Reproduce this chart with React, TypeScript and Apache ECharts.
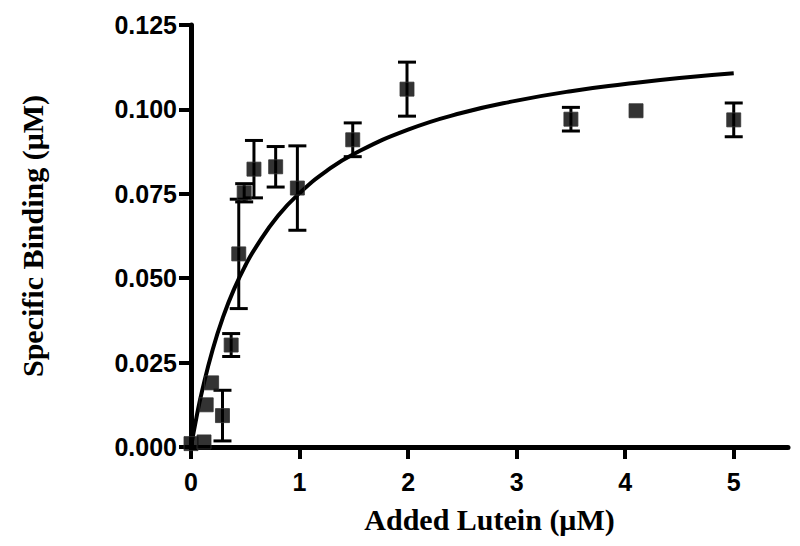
import React, { useEffect, useRef } from "react";
import * as echarts from "echarts";

const pointX = [0, 0.12, 0.14, 0.19, 0.29, 0.37, 0.44, 0.49, 0.58, 0.78, 0.98, 1.49, 1.99, 3.5, 4.1, 5.0];
const pointY = [0.001, 0.0015, 0.0125, 0.019, 0.0093, 0.0302, 0.0572, 0.0753, 0.0823, 0.083, 0.0767, 0.091, 0.106, 0.0971, 0.0996, 0.0969];
const pointErr = [0, 0, 0, 0, 0.0075, 0.0034, 0.0162, 0.0027, 0.0085, 0.006, 0.0125, 0.005, 0.008, 0.0035, 0, 0.005];

const curveX = [0, 0.05, 0.1, 0.2, 0.3, 0.4, 0.5, 0.6, 0.8, 1.0, 1.25, 1.5, 2.0, 2.5, 3.0, 3.5, 4.0, 4.5, 5.0];
const curveY = [0, 0.0087, 0.0163, 0.0289, 0.0389, 0.047, 0.0537, 0.0593, 0.0684, 0.0752, 0.0818, 0.0868, 0.094, 0.099, 0.1026, 0.1054, 0.1075, 0.1093, 0.1107];

const xTicks = { min: 0, max: 5.5, interval: 1 };
const yTicks = { min: 0, max: 0.125, interval: 0.025 };

export default function App() {
  const ref = useRef<HTMLDivElement>(null);
  useEffect(() => {
    if (!ref.current) return;
    const chart = echarts.init(ref.current, null, { renderer: "svg" });
    const points = pointX.map((x, i) => [x, pointY[i]]);
    const errs = pointX.map((x, i) => [x, pointY[i], pointErr[i]]);
    const curve = curveX.map((x, i) => [x, curveY[i]]);
    const axisLine = { show: true, lineStyle: { color: "#000", width: 5 } };
    const axisTick = { show: true, length: 12, inside: false, lineStyle: { color: "#000", width: 4 } };
    chart.setOption({
      animation: false,
      backgroundColor: "#fff",
      grid: { left: 191, right: 12, top: 25, bottom: 99, containLabel: false },
      xAxis: {
        type: "value",
        min: xTicks.min,
        max: xTicks.max,
        interval: xTicks.interval,
        axisLine,
        axisTick,
        splitLine: { show: false },
        axisLabel: {
          color: "#000",
          fontFamily: "Liberation Sans",
          fontWeight: "bold",
          fontSize: 25,
          margin: 22,
          showMaxLabel: false,
        },
        name: "Added Lutein (\u03bcM)",
        nameLocation: "middle",
        nameGap: 57,
        nameTextStyle: { color: "#000", fontFamily: "Liberation Serif", fontWeight: "bold", fontSize: 30 },
      },
      yAxis: {
        type: "value",
        min: yTicks.min,
        max: yTicks.max,
        interval: yTicks.interval,
        axisLine,
        axisTick,
        splitLine: { show: false },
        axisLabel: {
          color: "#000",
          fontFamily: "Liberation Sans",
          fontWeight: "bold",
          fontSize: 25,
          margin: 14,
          formatter: (v: number) => v.toFixed(3),
        },
        name: "Specific Binding (\u03bcM)",
        nameLocation: "middle",
        nameRotate: 90,
        nameGap: 144,
        nameTextStyle: { color: "#000", fontFamily: "Liberation Serif", fontWeight: "bold", fontSize: 30 },
      },
      series: [
        {
          type: "line",
          data: curve,
          smooth: true,
          showSymbol: false,
          lineStyle: { color: "#000", width: 4 },
          z: 3,
        },
        {
          type: "custom",
          data: errs,
          z: 4,
          renderItem: (params: any, api: any) => {
            const x = api.value(0);
            const y = api.value(1);
            const e = api.value(2);
            if (!e) return { type: "group", children: [] };
            const top = api.coord([x, y + e]);
            const bot = api.coord([x, y - e]);
            const hw = 9;
            const style = { stroke: "#000", lineWidth: 3 };
            return {
              type: "group",
              children: [
                { type: "line", shape: { x1: top[0], y1: top[1], x2: bot[0], y2: bot[1] }, style },
                { type: "line", shape: { x1: top[0] - hw, y1: top[1], x2: top[0] + hw, y2: top[1] }, style },
                { type: "line", shape: { x1: bot[0] - hw, y1: bot[1], x2: bot[0] + hw, y2: bot[1] }, style },
              ],
            };
          },
        },
        {
          type: "scatter",
          data: points,
          symbol: "rect",
          symbolSize: 14,
          itemStyle: { color: "#000", borderColor: "#333", borderWidth: 1 },
          z: 5,
        },
      ],
    });
    return () => chart.dispose();
  }, []);
  return <div ref={ref} style={{ position: "absolute", left: 0, top: 0, width: 800, height: 546 }} />;
}
